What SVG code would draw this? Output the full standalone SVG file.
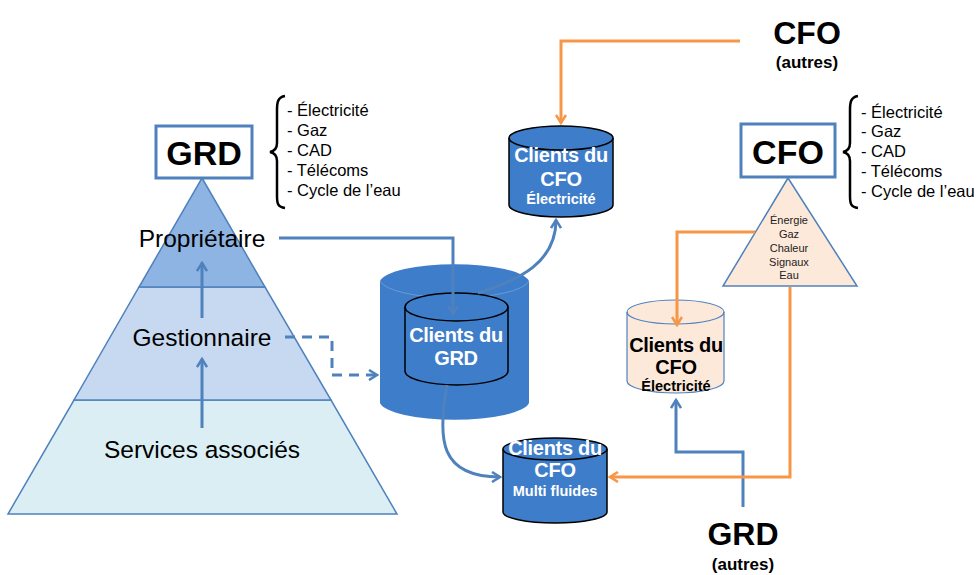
<svg xmlns="http://www.w3.org/2000/svg" width="977" height="575" viewBox="0 0 977 575">
<defs>
<style>
text{font-family:"Liberation Sans",Arial,sans-serif;}
.lst{font-size:16.5px;fill:#000;}
.lvl{font-size:24.5px;fill:#000;text-anchor:middle;}
.big{font-size:34px;font-weight:bold;fill:#000;text-anchor:middle;}
.aut{font-size:17px;font-weight:bold;fill:#000;text-anchor:middle;}
.cw{font-size:20px;font-weight:bold;fill:#fff;text-anchor:middle;letter-spacing:-0.3px;}
.cws{font-size:14.5px;font-weight:bold;fill:#fff;text-anchor:middle;}
.cb{font-size:20px;font-weight:bold;fill:#000;text-anchor:middle;letter-spacing:-0.3px;}
.cbs{font-size:14.5px;font-weight:bold;fill:#000;text-anchor:middle;}
.tri{font-size:11px;fill:#222;text-anchor:middle;}
.blue{fill:none;stroke:#4F81BD;stroke-width:3;}
.orng{fill:none;stroke:#F79646;stroke-width:3;}
.brace{fill:none;stroke:#000;stroke-width:2.5;}
.cyl{fill:#3E7DC9;stroke:#000;stroke-width:1.5;}
</style>
<marker id="ab" viewBox="0 0 12 12" refX="10" refY="6" markerWidth="12" markerHeight="12" markerUnits="userSpaceOnUse" orient="auto">
<path d="M2,1 L10,6 L2,11" fill="none" stroke="#4F81BD" stroke-width="2.5"/>
</marker>
<marker id="ao" viewBox="0 0 12 12" refX="10" refY="6" markerWidth="12" markerHeight="12" markerUnits="userSpaceOnUse" orient="auto">
<path d="M2,1 L10,6 L2,11" fill="none" stroke="#F79646" stroke-width="2.5"/>
</marker>
</defs>
<rect width="977" height="575" fill="#fff"/>

<g id="pyramid-grd">
<polygon points="74,400 331,400 397,514 8,514" fill="#DAEEF3" stroke="#4F81BD" stroke-width="1.5"/>
<polygon points="139,287 265,287 331,400 74,400" fill="#C6D9F1" stroke="#4F81BD" stroke-width="1.5"/>
<polygon points="202,178 265,287 139,287" fill="#8EB4E3" stroke="#4F81BD" stroke-width="1.5"/>
<text class="lvl" x="202" y="247">Propriétaire</text>
<text class="lvl" x="202" y="346">Gestionnaire</text>
<text class="lvl" x="202" y="458">Services associés</text>
</g>

<g id="grd-box">
<rect x="156" y="126" width="96" height="52" fill="#fff" stroke="#4F81BD" stroke-width="3"/>
<text class="big" x="204" y="165">GRD</text>
</g>

<g id="grd-list">
<path class="brace" d="M285,96 C278,97 277,102 277,110 L277,143 C277,148 275,151 270,152 C275,153 277,156 277,161 L277,196 C277,204 278,207 285,208"/>
<text class="lst" x="287" y="116">- Électricité</text>
<text class="lst" x="287" y="136">- Gaz</text>
<text class="lst" x="287" y="156">- CAD</text>
<text class="lst" x="287" y="176">- Télécoms</text>
<text class="lst" x="287" y="196">- Cycle de l’eau</text>
</g>

<g id="cfo-box">
<rect x="741" y="124" width="94" height="53" fill="#fff" stroke="#4F81BD" stroke-width="3"/>
<text class="big" x="788" y="164">CFO</text>
</g>

<g id="cfo-list">
<path class="brace" d="M858,96 C851,97 850,102 850,110 L850,143 C850,148 848,151 843,152 C848,153 850,156 850,161 L850,196 C850,204 851,207 858,208"/>
<text class="lst" x="861" y="118">- Électricité</text>
<text class="lst" x="861" y="137">- Gaz</text>
<text class="lst" x="861" y="157">- CAD</text>
<text class="lst" x="861" y="177">- Télécoms</text>
<text class="lst" x="861" y="197">- Cycle de l’eau</text>
</g>

<g id="cfo-triangle">
<polygon points="788,178 857,286 723,286" fill="#FDE9D9" stroke="#4F81BD" stroke-width="1.5"/>
<text class="tri" x="789" y="224">Énergie</text>
<text class="tri" x="789" y="238">Gaz</text>
<text class="tri" x="789" y="252">Chaleur</text>
<text class="tri" x="789" y="266">Signaux</text>
<text class="tri" x="789" y="279">Eau</text>
</g>

<g id="cyl-grd-outer">
<path d="M380,281 A75,19 0 0 1 529,281 L529,403 A75,19 0 0 1 380,403 Z" fill="#3E7DC9"/>
<path d="M380,281 A75,19 0 0 0 529,281" fill="none" stroke="#6A9AD6" stroke-width="1"/>
</g>

<g id="cyl-grd">
<path class="cyl" d="M405,307 A51.5,14 0 0 1 508,307 L508,371 A51.5,14 0 0 1 405,371 Z"/>
<path d="M405,307 A51.5,14 0 0 0 508,307" fill="none" stroke="#000" stroke-width="1.5"/>
<text class="cw" x="456" y="342">Clients du</text>
<text class="cw" x="456" y="365">GRD</text>
</g>

<g id="cyl-cfo-elec">
<path class="cyl" d="M509,138 A52,12 0 0 1 613,138 L613,205 A52,12 0 0 1 509,205 Z"/>
<path d="M509,138 A52,12 0 0 0 613,138" fill="none" stroke="#000" stroke-width="1.5"/>
<text class="cw" x="561" y="162">Clients du</text>
<text class="cw" x="561" y="186">CFO</text>
<text class="cws" x="561" y="204">Électricité</text>
</g>

<g id="cyl-cfo-multi">
<path class="cyl" d="M503,449 A52,11 0 0 1 607,449 L607,512 A52,11 0 0 1 503,512 Z"/>
<path d="M503,449 A52,11 0 0 0 607,449" fill="none" stroke="#000" stroke-width="1.5"/>
<text class="cw" x="555" y="455">Clients du</text>
<text class="cw" x="555" y="477">CFO</text>
<text class="cws" x="555" y="496">Multi fluides</text>
</g>

<g id="cyl-cfo-elec-2">
<path d="M627,312 A48.5,12 0 0 1 724,312 L724,381 A48.5,12 0 0 1 627,381 Z" fill="#FDE9D9" stroke="#4F81BD" stroke-width="1.2"/>
<path d="M627,312 A48.5,12 0 0 0 724,312" fill="none" stroke="#4F81BD" stroke-width="1.2"/>
<text class="cb" x="676" y="352">Clients du</text>
<text class="cb" x="676" y="374">CFO</text>
<text class="cbs" x="676" y="391">Électricité</text>
</g>

<g id="cfo-autres">
<text x="807" y="44" style="font-size:32px;font-weight:bold;text-anchor:middle;">CFO</text>
<text class="aut" x="807" y="68">(autres)</text>
</g>

<g id="grd-autres">
<text x="743" y="545" style="font-size:32px;font-weight:bold;text-anchor:middle;">GRD</text>
<text class="aut" x="743" y="570">(autres)</text>
</g>

<g id="connectors">
<line class="blue" x1="202" y1="318" x2="202" y2="263" marker-end="url(#ab)"/>
<line class="blue" x1="202" y1="428" x2="202" y2="359" marker-end="url(#ab)"/>
<polyline class="blue" points="279,238 453,238 453,314" marker-end="url(#ab)"/>
<polyline class="blue" points="285,337 332,337 332,375 377,375" stroke-dasharray="10,7" marker-end="url(#ab)"/>
<path class="blue" d="M478,293 C520,280 556,262 556,220" marker-end="url(#ab)"/>
<path class="blue" d="M447,385 C437,440 440,477 500,477" marker-end="url(#ab)"/>
<polyline class="blue" points="743,507 743,452 676,452 676,400" marker-end="url(#ab)"/>
<polyline class="orng" points="740,41 561,41 561,123" marker-end="url(#ao)"/>
<polyline class="orng" points="755,232 677,232 677,325" marker-end="url(#ao)"/>
<polyline class="orng" points="790,287 790,477 610,477" marker-end="url(#ao)"/>
</g>
</svg>
